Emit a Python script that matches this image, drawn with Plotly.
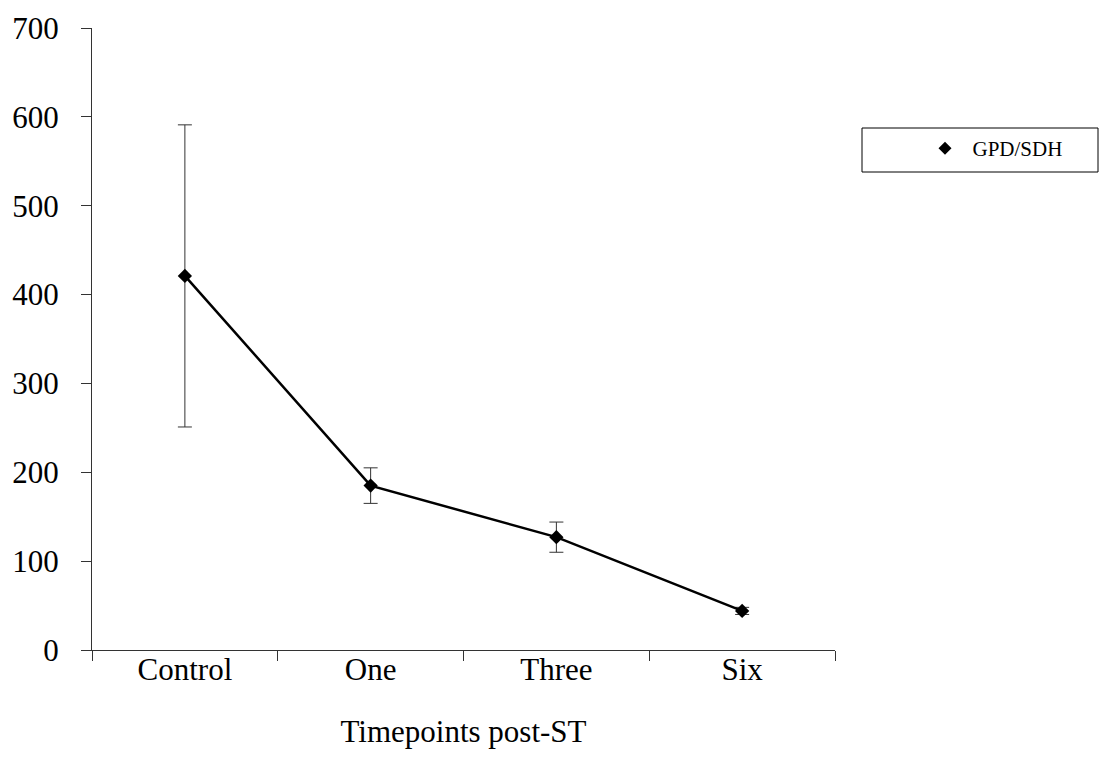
import plotly.graph_objects as go

categories = ["Control", "One", "Three", "Six"]
gpd_sdh = [421, 185, 127, 44]
gpd_sdh_err = [170, 20, 17, 4]
y_ticks = [0, 100, 200, 300, 400, 500, 600, 700]

FONT = "Liberation Serif, Times New Roman, serif"

fig = go.Figure()
fig.add_trace(go.Scatter(
    x=categories, y=gpd_sdh, name="GPD/SDH", mode="lines+markers",
    line=dict(color="black", width=2.5),
    marker=dict(symbol="diamond", size=11, color="black"),
    error_y=dict(type="data", array=gpd_sdh_err, visible=True,
                 color="#333333", thickness=1, width=7),
    showlegend=False,
))
# legend entry: marker only, like the reference
fig.add_trace(go.Scatter(
    x=[None], y=[None], name="GPD/SDH", mode="markers",
    marker=dict(symbol="diamond", size=10, color="black"),
    showlegend=True,
))

fig.update_layout(
    width=1103, height=776,
    margin=dict(l=92, r=268, t=28, b=126),
    paper_bgcolor="white", plot_bgcolor="white",
    font=dict(family=FONT, color="black", size=31),
    showlegend=True,
    legend=dict(x=1.111, y=0.839, xanchor="left", yanchor="top",
                font=dict(size=21, family=FONT), bgcolor="rgba(0,0,0,0)",
                borderwidth=0, itemwidth=45),
    shapes=[dict(type="rect", xref="paper", yref="paper",
                 x0=(862 - 92) / 743, x1=(1098 - 92) / 743,
                 y0=(650 - 172) / 622, y1=(650 - 128) / 622,
                 line=dict(color="black", width=1))],
)
fig.update_xaxes(
    type="category", range=[-0.5, 3.5],
    showline=True, linecolor="#333333", linewidth=1,
    ticks="outside", tickson="boundaries", ticklen=10, tickcolor="#333333",
    showgrid=False, zeroline=False,
    tickfont=dict(size=31, family=FONT),
    ticklabelstandoff=-8,
    title=dict(text="Timepoints post-ST", font=dict(size=31, family=FONT), standoff=34),
)
fig.update_yaxes(
    range=[0, 700], tickvals=y_ticks,
    showline=True, linecolor="#333333", linewidth=1,
    ticks="outside", ticklen=10, tickcolor="#333333",
    showgrid=False, zeroline=False,
    tickfont=dict(size=31, family=FONT),
    ticklabelstandoff=16,
)

fig.write_html("out.html")
